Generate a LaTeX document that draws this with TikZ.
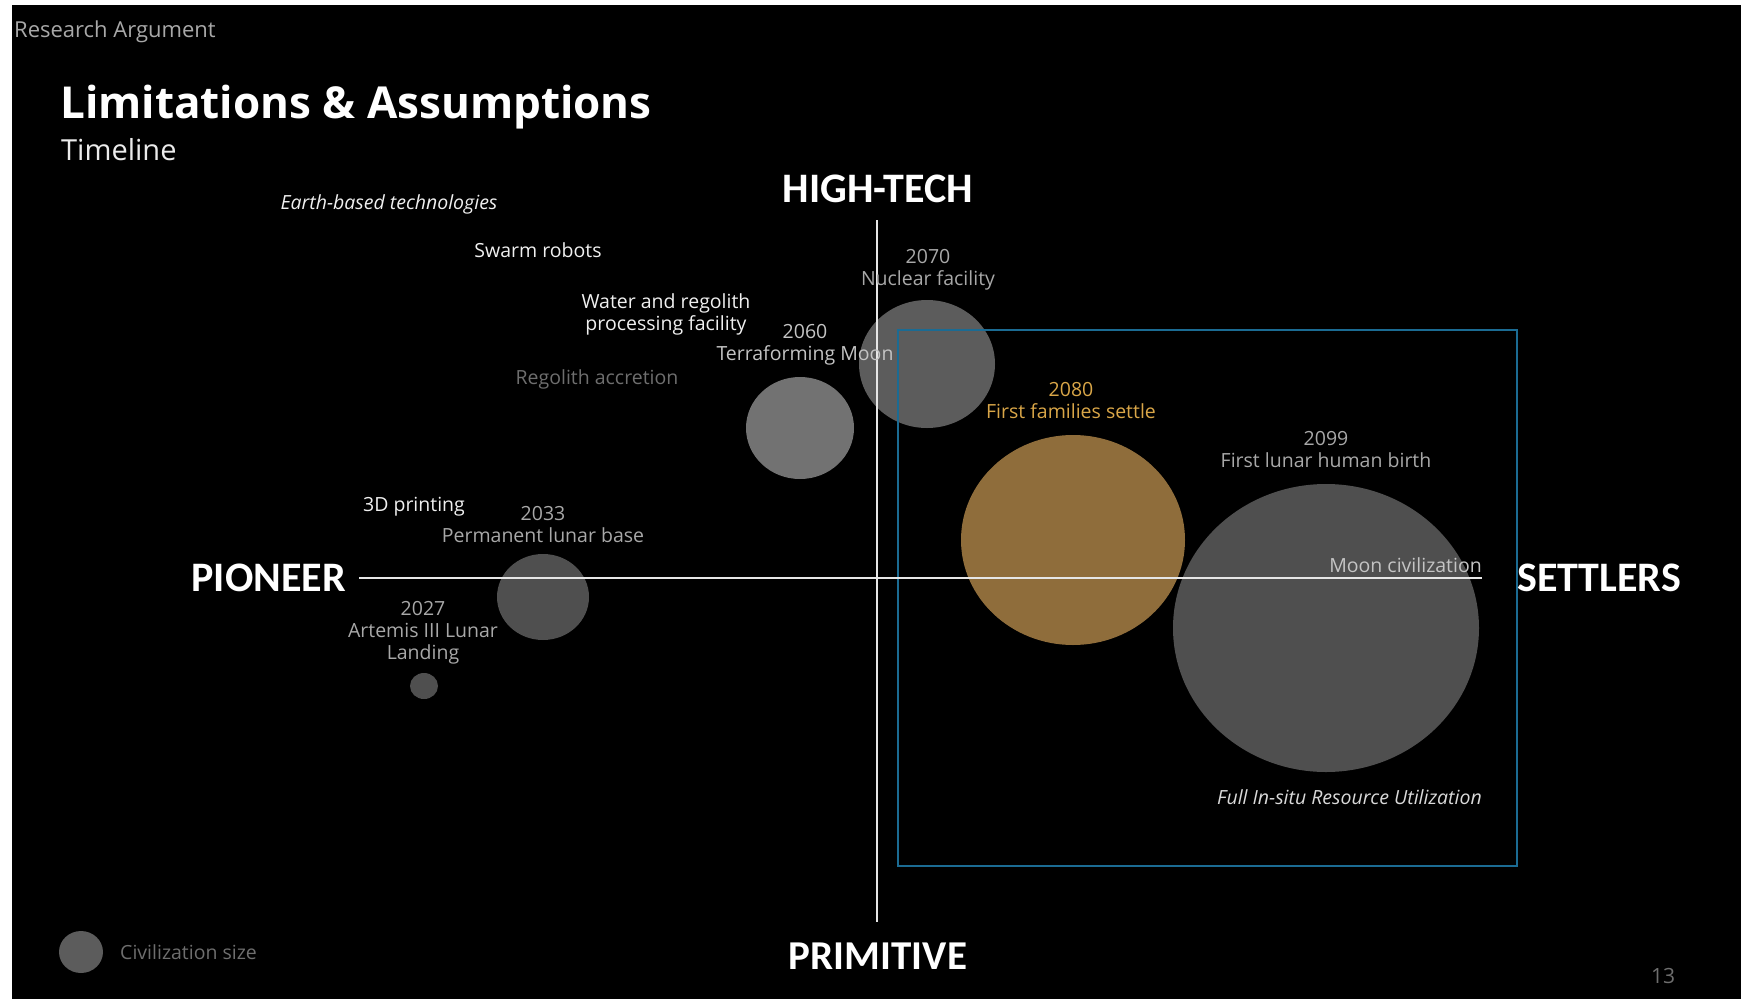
\documentclass[tikz,border=0pt]{standalone}
\usepackage{fontspec}
\setmainfont{Open Sans}
\newfontfamily\axisfont{Carlito}[Ligatures=NoCommon]
\usetikzlibrary{shapes.geometric}
\definecolor{bubblegray}{HTML}{4F4F4F}
\definecolor{bubblelight}{HTML}{727272}
\definecolor{bubblemid}{HTML}{5C5C5C}
\definecolor{bubblegold}{HTML}{8F6D3B}
\definecolor{labelgold}{HTML}{D9A648}
\definecolor{labelgray}{HTML}{A8A8A8}
\definecolor{labeldark}{HTML}{6E6E6E}
\definecolor{labellight}{HTML}{C4C4C4}
\definecolor{boxblue}{HTML}{1B6B93}
\definecolor{axiswhite}{HTML}{E6E6E6}
\begin{document}
\begin{tikzpicture}[x=1pt,y=-1pt,
  bubble/.style={ellipse, inner sep=0pt, draw=none},
  lbl/.style={font=\fontsize{19.5}{22}\selectfont, text=labelgray, inner sep=0pt, align=center},
  lblw/.style={lbl, text=white!94!black},
  axislbl/.style={font=\axisfont\fontsize{42}{44}\selectfont\bfseries, text=white, inner sep=0pt},
  axisline/.style={draw=axiswhite, line width=2pt}]
\useasboundingbox (0,0) rectangle (1741,999);
\fill[white] (0,0) rectangle (1741,999);
\fill[black] (12,5) rectangle (1741,999);

% header
\node[anchor=west, inner sep=0pt, text=labelgray, font=\fontsize{22}{24}\selectfont] (section) at (14,32) {Research Argument};
\node[anchor=west, inner sep=0pt, text=white, font=\fontsize{44}{46}\selectfont\bfseries] (title) at (60,107) {Limitations \& Assumptions};
\node[anchor=west, inner sep=0pt, text=white!92!black, font=\fontsize{29}{32}\selectfont] (subtitle) at (61,150) {Timeline};

% civilization bubbles
\node[bubble, fill=bubblegray, minimum width=28pt, minimum height=26pt] (b2027) at (424,686) {};
\node[bubble, fill=bubblegray, minimum width=92pt, minimum height=86pt] (b2033) at (543,597) {};
\node[bubble, fill=bubblelight, minimum width=108pt, minimum height=102pt] (b2060) at (800,428) {};
\node[bubble, fill=bubblemid, minimum width=136pt, minimum height=128pt] (b2070) at (927,364) {};
\node[bubble, fill=bubblegold, minimum width=224pt, minimum height=210pt] (b2080) at (1073,540) {};
\node[bubble, fill=bubblegray, minimum width=306pt, minimum height=288pt] (b2099) at (1326,628) {};
\node[bubble, fill=bubblemid, minimum width=44pt, minimum height=42pt] (legend) at (81,952) {};

% settlers region
\draw[boxblue, line width=1.4pt] (898,330) rectangle (1517,866);

% axes
\coordinate (ytop) at (877,220);
\coordinate (ybot) at (877,922);
\coordinate (xleft) at (359,578);
\coordinate (xright) at (1482,578);
\draw[axisline] (ytop) -- (ybot);
\draw[axisline] (xleft) -- (xright);

\node[axislbl] (hightech) at (878,189) {HIGH-TECH};
\node[axislbl, font=\axisfont\fontsize{41}{44}\selectfont\bfseries] (primitive) at (878,956) {PRIMITIVE};
\node[axislbl, anchor=east] (pioneer) at (346,578) {PIONEER};
\node[axislbl, anchor=west] (settlers) at (1517,578) {SETTLERS};

% technology notes
\node[lblw, font=\fontsize{19.5}{22}\selectfont\itshape] (earth) at (389,204) {Earth-based technologies};
\node[lblw] (swarm) at (538,250) {Swarm robots};
\node[lblw] (water) at (666,314) {Water and regolith\\processing facility};
\node[lbl, text=labeldark] (accretion) at (597,379) {Regolith accretion};
\node[lblw] (printing) at (414,507) {3D printing};

% milestones
\node[lbl] (m2027) at (423,633) {2027\\Artemis III Lunar\\Landing};
\node[lbl] (m2033) at (543,525) {2033\\Permanent lunar base};
\node[lbl, text=labellight] (m2060) at (805,345) {2060\\Terraforming Moon};
\node[lbl] (m2070) at (928,270) {2070\\Nuclear facility};
\node[lbl, text=labelgold] (m2080) at (1071,401) {2080\\First families settle};
\node[lbl] (m2099) at (1326,450) {2099\\First lunar human birth};
\node[lbl, text=labellight, anchor=east] (civ) at (1482,565) {Moon civilization};
\node[lbl, text=white!85!black, anchor=east, font=\fontsize{19.5}{22}\selectfont\itshape] (isru) at (1482,797) {Full In-situ Resource Utilization};

% footer
\node[lbl, text=labeldark, anchor=west] (legendtext) at (120,952) {Civilization size};
\node[lbl, text=labeldark, font=\fontsize{21}{24}\selectfont] (page) at (1663,976) {13};
\end{tikzpicture}
\end{document}
